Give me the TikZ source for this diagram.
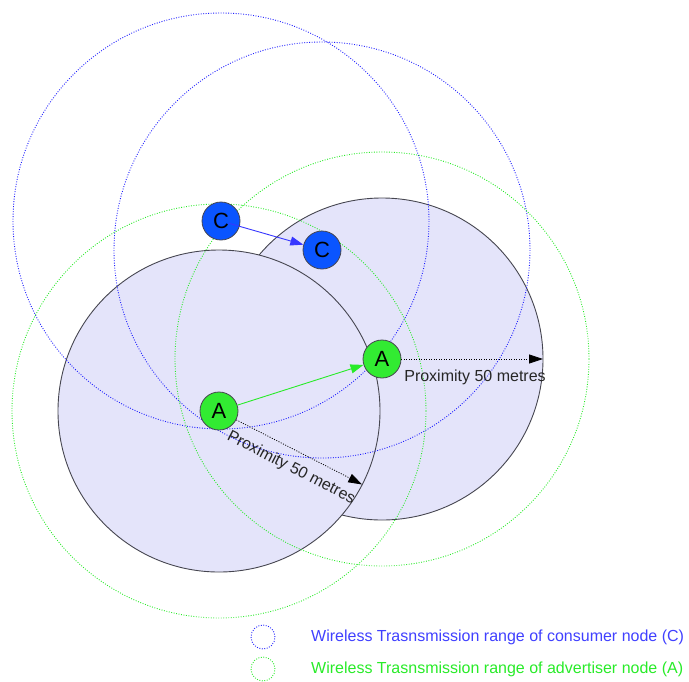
\documentclass[tikz,border=0pt]{standalone}
\usepackage{fontspec}
\setmainfont{Liberation Sans}
\usetikzlibrary{arrows.meta}
\definecolor{zonefill}{RGB}{228,228,250}
\definecolor{zoneedge}{RGB}{70,70,80}
\definecolor{advgreen}{RGB}{50,235,50}
\definecolor{conblue}{RGB}{10,85,255}
\definecolor{movblue}{RGB}{55,55,255}
\definecolor{rangeblue}{RGB}{30,30,255}
\definecolor{rangegreen}{RGB}{40,235,40}
\tikzset{
  zone/.style={draw=zoneedge, line width=0.9pt, fill=zonefill},
  rangedots/.style={line width=0.9pt, dash pattern=on 0.9pt off 1.6pt},
  agent/.style={circle, draw=zoneedge, line width=0.8pt, minimum size=38pt,
    inner sep=0pt, font=\fontsize{22}{24}\selectfont},
  proxarrow/.style={dash pattern=on 1pt off 1.5pt, line width=0.8pt,
    -{Triangle[length=14pt,width=9pt]}},
  proxlabel/.style={font=\fontsize{16}{18}\selectfont, text=black!85, inner sep=0pt},
  legendtext/.style={anchor=west, font=\fontsize{16}{18}\selectfont, inner sep=0pt}
}
\begin{document}
\begin{tikzpicture}[x=1pt, y=-1pt]
\useasboundingbox (0,0) rectangle (689,681);

% positions of the four devices
\coordinate (pa1) at (219,411);
\coordinate (pa2) at (382,359);
\coordinate (pc1) at (221,221);
\coordinate (pc2) at (322,250);

% proximity zones of the advertisers
\fill[zone] (pa2) circle[radius=161];
\fill[zone] (pa1) circle[radius=161];

% wireless transmission ranges
\draw[rangedots, rangeblue] (pc1) circle[radius=208];
\draw[rangedots, rangeblue] (pc2) circle[radius=208];
\draw[rangedots, rangegreen] (pa1) circle[radius=207];
\draw[rangedots, rangegreen] (pa2) circle[radius=207];

% devices
\node[agent, fill=advgreen] (a1) at (pa1) {A};
\node[agent, fill=advgreen] (a2) at (pa2) {A};
\node[agent, fill=conblue] (c1) at (pc1) {C};
\node[agent, fill=conblue] (c2) at (pc2) {C};

% proximity radius markers
\coordinate (r1) at (362.2,484.5);
\coordinate (r2) at (543,359);
\draw[proxarrow] (a1) -- (r1)
  node[proxlabel, pos=0.5, below=10pt, sloped] {Proximity 50 metres};
\draw[proxarrow] (a2) -- (r2)
  node[proxlabel, pos=0.52, below=10pt] {Proximity 50 metres};

% movement of the devices
\draw[rangegreen, line width=0.9pt, -{Triangle[length=13pt,width=9pt]}] (a1) -- (a2);
\draw[movblue, line width=0.9pt, shorten <=8pt,
  -{Triangle[length=13pt,width=9pt]}] (c1.center) -- (c2);

% legend
\node[circle, rangedots, draw=rangeblue, minimum size=24pt, inner sep=0pt] (lb) at (263,637) {};
\node[circle, rangedots, draw=rangegreen, minimum size=24pt, inner sep=0pt] (lg) at (263,669) {};
\node[legendtext, text=rangeblue!85!white] (tb) at (311,637) {Wireless Trasnsmission range of consumer node (C)};
\node[legendtext, text=rangegreen] (tg) at (311,669) {Wireless Trasnsmission range of advertiser node (A)};
\end{tikzpicture}
\end{document}
